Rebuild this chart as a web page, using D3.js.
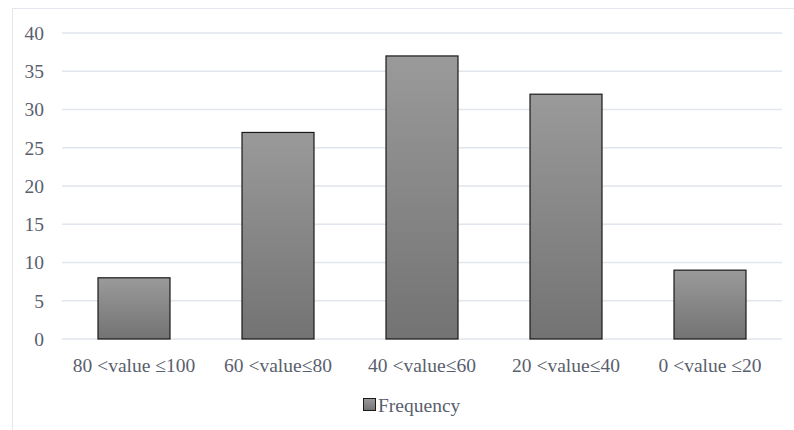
<!DOCTYPE html>
<html>
<head>
<meta charset="utf-8">
<script src="https://cdn.jsdelivr.net/npm/d3@7"></script>
<style>
  body { margin: 0; background: #fff; font-family: "Liberation Serif", serif; }
</style>
</head>
<body>
<div id="chart"></div>
<script>
var categories = ["80 <value \u2264100", "60 <value\u226480", "40 <value\u226460", "20 <value\u226440", "0 <value \u226420"];
var frequency = [8, 27, 37, 32, 9];
var yTicks = [0, 5, 10, 15, 20, 25, 30, 35, 40];
var seriesName = "Frequency";

var W = 794, H = 430;
var margin = { top: 33, right: 12, bottom: 91, left: 62 };
var width = 782 - margin.left;
var height = 339 - margin.top;
var textColor = "#59606e";
var fontSize = "19.5px";

var svg = d3.select("#chart").append("svg")
    .attr("width", W)
    .attr("height", H);

// outer frame
svg.append("rect")
    .attr("x", 12.5).attr("y", 8.5)
    .attr("width", W).attr("height", H)
    .attr("fill", "none")
    .attr("stroke", "#e3e6ec")
    .attr("stroke-width", 1);

var defs = svg.append("defs");
var grad = defs.append("linearGradient")
    .attr("id", "barGrad")
    .attr("x1", 0).attr("y1", 0).attr("x2", 0).attr("y2", 1);
grad.append("stop").attr("offset", "0%").attr("stop-color", "#9a9a9a");
grad.append("stop").attr("offset", "100%").attr("stop-color", "#737373");

var g = svg.append("g")
    .attr("transform", "translate(" + margin.left + "," + margin.top + ")");

var x = d3.scaleBand().domain(categories).range([0, width]).paddingInner(0.5).paddingOuter(0.25);
var y = d3.scaleLinear().domain([0, 40]).range([height, 0]);

// gridlines
g.append("g").selectAll("line")
    .data(yTicks)
    .join("line")
    .attr("x1", 0).attr("x2", width)
    .attr("y1", function (d) { return y(d); })
    .attr("y2", function (d) { return y(d); })
    .attr("stroke", "#e1e5ec")
    .attr("stroke-width", 1.3);

// y labels
g.append("g").selectAll("text")
    .data(yTicks)
    .join("text")
    .attr("x", -18)
    .attr("y", function (d) { return y(d); })
    .attr("dy", "0.35em")
    .attr("text-anchor", "end")
    .style("font-family", "Liberation Serif")
    .style("font-size", fontSize)
    .attr("fill", textColor)
    .text(function (d) { return d; });

// bars
g.append("g").selectAll("rect")
    .data(frequency)
    .join("rect")
    .attr("x", function (d, i) { return x(categories[i]); })
    .attr("y", function (d) { return y(d); })
    .attr("width", x.bandwidth())
    .attr("height", function (d) { return height - y(d); })
    .attr("fill", "url(#barGrad)")
    .attr("stroke", "#1a1a1a")
    .attr("stroke-width", 1.2);

// x labels
g.append("g").selectAll("text")
    .data(categories)
    .join("text")
    .attr("x", function (d) { return x(d) + x.bandwidth() / 2; })
    .attr("y", height + 26)
    .attr("dy", "0.35em")
    .attr("text-anchor", "middle")
    .style("font-family", "Liberation Serif")
    .style("font-size", fontSize)
    .attr("fill", textColor)
    .text(function (d) { return d; });

// legend
var legend = svg.append("g").attr("transform", "translate(363,398)");
legend.append("rect")
    .attr("x", 0.5).attr("y", 0.5)
    .attr("width", 12).attr("height", 12)
    .attr("fill", "url(#barGrad)")
    .attr("stroke", "#1a1a1a")
    .attr("stroke-width", 1);
legend.append("text")
    .attr("x", 15).attr("y", 7)
    .attr("dy", "0.35em")
    .style("font-family", "Liberation Serif")
    .style("font-size", fontSize)
    .attr("fill", textColor)
    .text(seriesName);
</script>
</body>
</html>
